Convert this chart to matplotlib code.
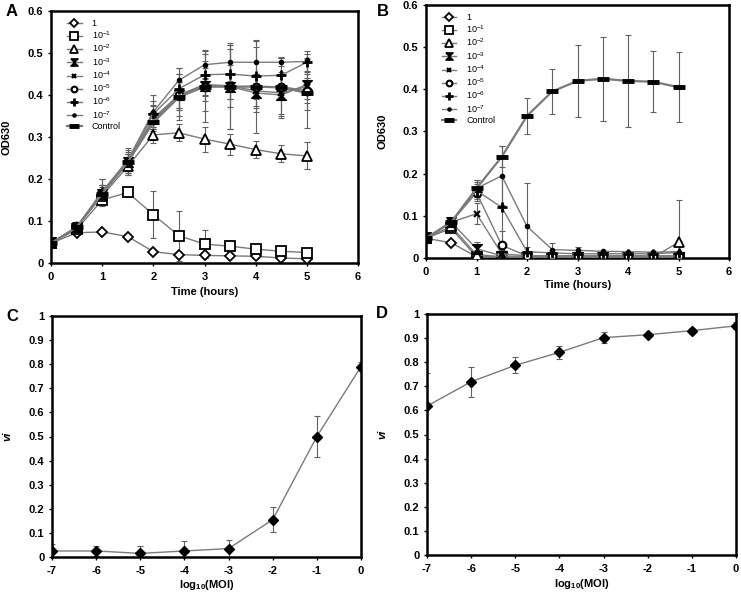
import numpy as np
import matplotlib
matplotlib.use("Agg")
import matplotlib.pyplot as plt

plt.rcParams['font.family'] = ['Liberation Sans', 'DejaVu Sans']
plt.rcParams['mathtext.fontset'] = 'custom'
plt.rcParams['mathtext.rm'] = 'Liberation Sans'
plt.rcParams['mathtext.bf'] = 'Liberation Sans:bold'
plt.rcParams['mathtext.it'] = 'Liberation Sans:italic'

# ── Data ────────────────────────────────────────────────────────────────────

time_h = [0, 0.5, 1, 1.5, 2, 2.5, 3, 3.5, 4, 4.5, 5]

series_labels = ['1', r'$10^{-1}$', r'$10^{-2}$', r'$10^{-3}$', r'$10^{-4}$',
                 r'$10^{-5}$', r'$10^{-6}$', r'$10^{-7}$', 'Control']

# panel A: OD630 over time
a_vals = [
    [0.047, 0.072, 0.074, 0.063, 0.027, 0.020, 0.018, 0.017, 0.016, 0.012, 0.010],
    [0.047, 0.080, 0.150, 0.168, 0.115, 0.065, 0.045, 0.040, 0.033, 0.028, 0.025],
    [0.047, 0.085, 0.160, 0.230, 0.305, 0.310, 0.295, 0.283, 0.270, 0.260, 0.255],
    [0.047, 0.085, 0.165, 0.240, 0.345, 0.400, 0.422, 0.420, 0.405, 0.400, 0.425],
    [0.047, 0.085, 0.165, 0.240, 0.340, 0.400, 0.425, 0.422, 0.410, 0.405, 0.420],
    [0.047, 0.085, 0.165, 0.240, 0.340, 0.400, 0.420, 0.420, 0.420, 0.420, 0.410],
    [0.047, 0.085, 0.170, 0.240, 0.355, 0.415, 0.448, 0.450, 0.445, 0.447, 0.478],
    [0.047, 0.085, 0.170, 0.245, 0.360, 0.435, 0.472, 0.478, 0.478, 0.478, 0.480],
    [0.047, 0.085, 0.165, 0.240, 0.335, 0.395, 0.420, 0.420, 0.420, 0.418, 0.405],
]
a_errs = [
    [0.010, 0.005, 0.005, 0.005, 0.005, 0.005, 0.005, 0.005, 0.005, 0.005, 0.005],
    [0.010, 0.010, 0.015, 0.010, 0.056, 0.060, 0.033, 0.012, 0.010, 0.008, 0.008],
    [0.010, 0.010, 0.020, 0.020, 0.020, 0.020, 0.030, 0.025, 0.020, 0.020, 0.032],
    [0.010, 0.010, 0.020, 0.020, 0.030, 0.050, 0.060, 0.100, 0.045, 0.050, 0.060],
    [0.010, 0.010, 0.020, 0.020, 0.020, 0.030, 0.040, 0.050, 0.040, 0.050, 0.030],
    [0.010, 0.010, 0.020, 0.020, 0.020, 0.030, 0.020, 0.030, 0.030, 0.030, 0.030],
    [0.010, 0.010, 0.030, 0.030, 0.030, 0.050, 0.050, 0.060, 0.070, 0.040, 0.020],
    [0.010, 0.010, 0.030, 0.030, 0.040, 0.030, 0.035, 0.045, 0.050, 0.010, 0.025],
    [0.010, 0.010, 0.020, 0.025, 0.042, 0.054, 0.085, 0.100, 0.110, 0.072, 0.083],
]

# panel B: OD630 over time
b_vals = [
    [0.047, 0.036, 0.003, 0.002, 0.001, 0.001, 0.001, 0.001, 0.001, 0.001, 0.001],
    [0.047, 0.070, 0.003, 0.002, 0.001, 0.001, 0.001, 0.001, 0.001, 0.001, 0.001],
    [0.047, 0.075, 0.008, 0.003, 0.002, 0.002, 0.002, 0.002, 0.002, 0.002, 0.037],
    [0.047, 0.085, 0.022, 0.005, 0.003, 0.003, 0.003, 0.003, 0.003, 0.003, 0.003],
    [0.047, 0.085, 0.105, 0.010, 0.005, 0.005, 0.005, 0.005, 0.005, 0.005, 0.005],
    [0.047, 0.085, 0.155, 0.030, 0.005, 0.005, 0.005, 0.005, 0.005, 0.005, 0.005],
    [0.047, 0.085, 0.160, 0.120, 0.015, 0.012, 0.010, 0.010, 0.010, 0.010, 0.013],
    [0.047, 0.085, 0.165, 0.195, 0.075, 0.020, 0.018, 0.016, 0.015, 0.014, 0.015],
    [0.047, 0.085, 0.165, 0.240, 0.337, 0.395, 0.420, 0.425, 0.420, 0.418, 0.405],
]
b_errs = [
    [0.010, 0.005, 0.000, 0.000, 0.000, 0.000, 0.000, 0.000, 0.000, 0.000, 0.000],
    [0.010, 0.008, 0.000, 0.000, 0.000, 0.000, 0.000, 0.000, 0.000, 0.000, 0.000],
    [0.010, 0.008, 0.010, 0.000, 0.000, 0.000, 0.000, 0.000, 0.000, 0.000, 0.100],
    [0.010, 0.010, 0.015, 0.000, 0.000, 0.000, 0.000, 0.000, 0.000, 0.000, 0.000],
    [0.010, 0.010, 0.025, 0.010, 0.000, 0.000, 0.000, 0.000, 0.000, 0.000, 0.035],
    [0.010, 0.010, 0.020, 0.035, 0.000, 0.000, 0.000, 0.000, 0.000, 0.000, 0.000],
    [0.010, 0.010, 0.020, 0.120, 0.010, 0.008, 0.000, 0.000, 0.000, 0.000, 0.000],
    [0.010, 0.010, 0.020, 0.070, 0.103, 0.015, 0.008, 0.000, 0.000, 0.000, 0.000],
    [0.010, 0.010, 0.020, 0.025, 0.042, 0.054, 0.085, 0.100, 0.110, 0.072, 0.083],
]

# panels C and D: vi against log10(MOI)
log_moi = [-7, -6, -5, -4, -3, -2, -1, 0]
c_vi  = [0.025, 0.025, 0.015, 0.025, 0.035, 0.155, 0.500, 0.790]
c_err = [0.030, 0.022, 0.030, 0.043, 0.037, 0.052, 0.087, 0.020]
d_vi  = [0.618, 0.719, 0.787, 0.841, 0.902, 0.914, 0.931, 0.951]
d_err = [0.138, 0.062, 0.033, 0.026, 0.022, 0.008, 0.012, 0.015]

# ── Styling ─────────────────────────────────────────────────────────────────

hourglass = [(-1, 1), (1, 1), (-1, -1), (1, -1), (-1, 1)]
# marker, size, face, edge width
marker_styles = [
    ('D', 5.0, 'white', 1.3),
    ('s', 7.0, 'white', 1.3),
    ('^', 7.0, 'white', 1.3),
    (hourglass, 7.0, 'black', 1.0),
    ('x', 4.5, 'black', 1.5),
    ('o', 5.5, 'white', 1.5),
    ('+', 7.0, 'black', 2.0),
    ('o', 3.0, 'black', 1.0),
    ('_', 9.0, 'black', 3.5),
]
line_col = '#7a7a7a'
label_font = dict(fontsize=8, fontweight='bold')


def style_axes(ax, xticks, yticks, yticklabels):
    for s in ax.spines.values():
        s.set_linewidth(1.8)
    ax.set_xticks(xticks)
    ax.set_xticklabels([str(t) for t in xticks], **label_font)
    ax.set_yticks(yticks)
    ax.set_yticklabels(yticklabels, **label_font)
    ax.tick_params(direction='out', length=2.5, width=1, pad=3)
    ax.tick_params(axis='x', pad=4)


def growth_panel(ax, vals, errs, xlab_y, leg_x):
    for v, e, (m, ms, fc, mew), lab in zip(vals, errs, marker_styles, series_labels):
        v = np.asarray(v); e = np.asarray(e); t = np.asarray(time_h)
        keep = e > 0
        ax.errorbar(t[keep], v[keep], yerr=e[keep], fmt='none', ecolor='#606060',
                    elinewidth=0.8, capsize=2, capthick=0.8, zorder=2)
        lw = 1.6 if lab == 'Control' else 1.0
        ax.plot(t, v, color=line_col, lw=lw, marker=m, ms=ms, mfc=fc,
                mec='black', mew=mew, label=lab, zorder=3)
    ax.set_xlim(0, 6)
    ax.set_ylim(0, 0.6)
    yt = [0, 0.1, 0.2, 0.3, 0.4, 0.5, 0.6]
    style_axes(ax, [0, 1, 2, 3, 4, 5, 6], yt, ['0'] + ['%.1f' % y for y in yt[1:]])
    ax.set_ylabel('OD630', **label_font)
    ax.yaxis.set_label_coords(-0.128, 0.5)
    ax.set_xlabel('Time (hours)', **label_font)
    ax.xaxis.set_label_coords(0.5, xlab_y)
    ax.legend(loc='upper left', bbox_to_anchor=(leg_x, 0.99), frameon=False,
              fontsize=6.5, handlelength=1.6, handletextpad=1.1,
              labelspacing=0.17, markerscale=0.75, borderaxespad=0.2)


def vi_panel(ax, vi, err, xlab_y):
    ax.errorbar(log_moi, vi, yerr=err, fmt='none', ecolor='#606060',
                elinewidth=0.8, capsize=2, capthick=0.8, zorder=2)
    ax.plot(log_moi, vi, color=line_col, lw=1.0, marker='D', ms=5.5,
            mfc='black', mec='black', zorder=3)
    ax.set_xlim(-7, 0)
    ax.set_ylim(0, 1)
    yt = [round(0.1 * i, 1) for i in range(11)]
    style_axes(ax, log_moi, yt, ['0'] + ['%.1f' % y for y in yt[1:-1]] + ['1'])
    ax.set_ylabel('vi', fontsize=8, fontweight='bold', fontstyle='italic')
    ax.yaxis.set_label_coords(-0.128, 0.5)
    ax.set_xlabel(r'$\mathbf{log_{10}(MOI)}$', fontsize=8)
    ax.xaxis.set_label_coords(0.5, xlab_y)


fig = plt.figure(figsize=(7.41, 5.93), dpi=100)
W, H = 741, 593

def px_axes(left, top, right, bottom):
    return fig.add_axes([left / W, 1 - bottom / H, (right - left) / W, (bottom - top) / H])

ax_a = px_axes(51, 11, 358, 263)
ax_b = px_axes(426, 5, 729, 258)
ax_c = px_axes(52, 316, 361, 557)
ax_d = px_axes(427, 314, 736, 555)

growth_panel(ax_a, a_vals, a_errs, -0.095, 0.035)
growth_panel(ax_b, b_vals, b_errs, -0.085, 0.035)
vi_panel(ax_c, c_vi, c_err, -0.088)
vi_panel(ax_d, d_vi, d_err, -0.092)

for lab, x, y in [('A', 6, 12), ('B', 377, 12), ('C', 6, 317), ('D', 376, 314)]:
    fig.text(x / W, 1 - y / H, lab, fontsize=12, fontweight='bold', ha='left', va='center')

fig.savefig('out.png', dpi=100)
